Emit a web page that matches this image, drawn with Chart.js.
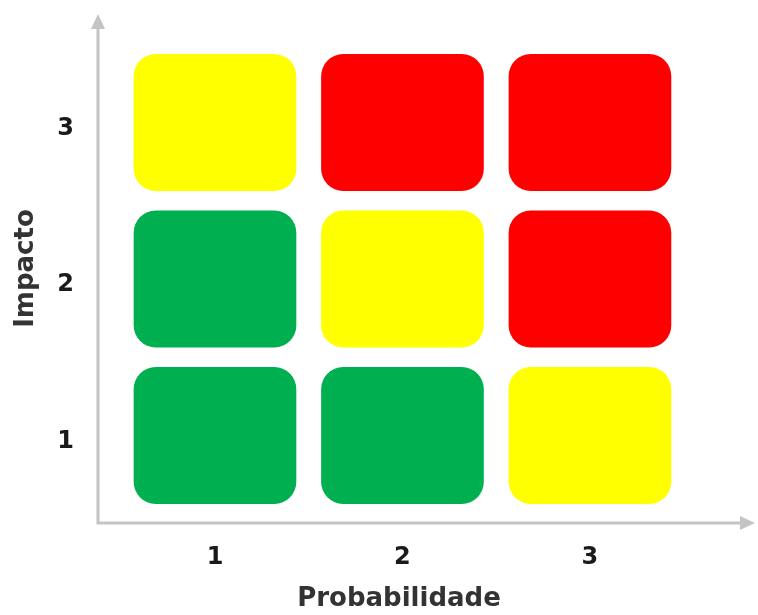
<!DOCTYPE html>
<html>
<head>
<meta charset="utf-8">
<script src="https://cdn.jsdelivr.net/npm/chart.js@4/dist/chart.umd.min.js"></script>
<style>
    html, body { margin: 0; padding: 0; background: #ffffff; }
    #wrap { width: 758px; height: 615px; }
</style>
</head>
<body>
<div id="wrap"><canvas id="riskMatrix"></canvas></div>
<script>
// Matriz de risco: probabilidade x impacto
const probabilidade = [1, 2, 3];
const impacto = [1, 2, 3];
// nivel de risco por linha de impacto (1 = baixo, 2 = medio, 3 = alto)
const nivelImpacto1 = [1, 1, 2];
const nivelImpacto2 = [1, 2, 3];
const nivelImpacto3 = [2, 3, 3];
const tickLabels = ['1', '2', '3'];

const niveis = [nivelImpacto1, nivelImpacto2, nivelImpacto3];
const colors = { 1: '#00b050', 2: '#ffff00', 3: '#ff0000' };
const cellHalf = 0.435;
const axisColor = '#c4c4c4';
const arrowExtra = 55; // seta do eixo x passa da area do grafico

const datasets = impacto.map((imp, row) => ({
    label: 'Impacto ' + imp,
    data: probabilidade.map(p => ({ x: p, y: [imp - cellHalf, imp + cellHalf] })),
    backgroundColor: niveis[row].map(n => colors[n]),
    borderWidth: 0,
    borderRadius: 22,
    borderSkipped: false,
    barThickness: 162,
    grouped: false
}));

const axisArrows = {
    id: 'axisArrows',
    afterDraw(chart) {
        const { ctx, chartArea: a } = chart;
        const right = a.right + arrowExtra;
        ctx.save();
        ctx.strokeStyle = axisColor;
        ctx.fillStyle = axisColor;
        ctx.lineWidth = 3;
        ctx.beginPath();
        ctx.moveTo(a.left, a.top + 12);
        ctx.lineTo(a.left, a.bottom);
        ctx.lineTo(right - 12, a.bottom);
        ctx.stroke();
        // seta vertical
        ctx.beginPath();
        ctx.moveTo(a.left, a.top);
        ctx.lineTo(a.left - 7, a.top + 15);
        ctx.lineTo(a.left + 7, a.top + 15);
        ctx.closePath();
        ctx.fill();
        // seta horizontal
        ctx.beginPath();
        ctx.moveTo(right, a.bottom);
        ctx.lineTo(right - 15, a.bottom - 7);
        ctx.lineTo(right - 15, a.bottom + 7);
        ctx.closePath();
        ctx.fill();
        ctx.restore();
    }
};

const tickFont = { family: 'DejaVu Sans', size: 24, weight: 'bold' };
const titleFont = { family: 'DejaVu Sans', size: 26, weight: 'bold' };

function fixPadding(scale) {
    scale.paddingTop = 0;
    scale.paddingBottom = 0;
    scale.paddingLeft = 0;
    scale.paddingRight = 0;
}

new Chart(document.getElementById('riskMatrix').getContext('2d'), {
    type: 'bar',
    data: { datasets: datasets },
    options: {
        responsive: true,
        maintainAspectRatio: false,
        animation: false,
        layout: { padding: { top: 14, right: 58, left: 0, bottom: 0 } },
        plugins: {
            legend: { display: false },
            tooltip: { enabled: false }
        },
        scales: {
            x: {
                type: 'linear',
                offset: false,
                min: 0.376,
                max: 3.587,
                grid: { display: false, drawTicks: false },
                border: { display: false },
                afterBuildTicks: scale => { scale.ticks = probabilidade.map(v => ({ value: v })); },
                afterFit: scale => { scale.height = 92; fixPadding(scale); },
                ticks: {
                    padding: 20,
                    color: '#1a1a1a',
                    font: tickFont,
                    callback: (v) => tickLabels[probabilidade.indexOf(v)] || ''
                },
                title: {
                    display: true,
                    text: 'Probabilidade',
                    color: '#333333',
                    font: titleFont,
                    padding: { top: 0, bottom: 0 }
                }
            },
            y: {
                type: 'linear',
                min: 0.441,
                max: 3.693,
                grid: { display: false, drawTicks: false },
                border: { display: false },
                afterBuildTicks: scale => { scale.ticks = impacto.map(v => ({ value: v })); },
                afterFit: scale => { scale.width = 98; fixPadding(scale); },
                ticks: {
                    padding: 24,
                    labelOffset: 6,
                    color: '#1a1a1a',
                    font: tickFont,
                    callback: (v) => tickLabels[impacto.indexOf(v)] || ''
                },
                title: {
                    display: true,
                    text: 'Impacto',
                    color: '#333333',
                    font: titleFont,
                    padding: { top: 11, bottom: 0 }
                }
            }
        }
    },
    plugins: [axisArrows]
});
</script>
</body>
</html>
